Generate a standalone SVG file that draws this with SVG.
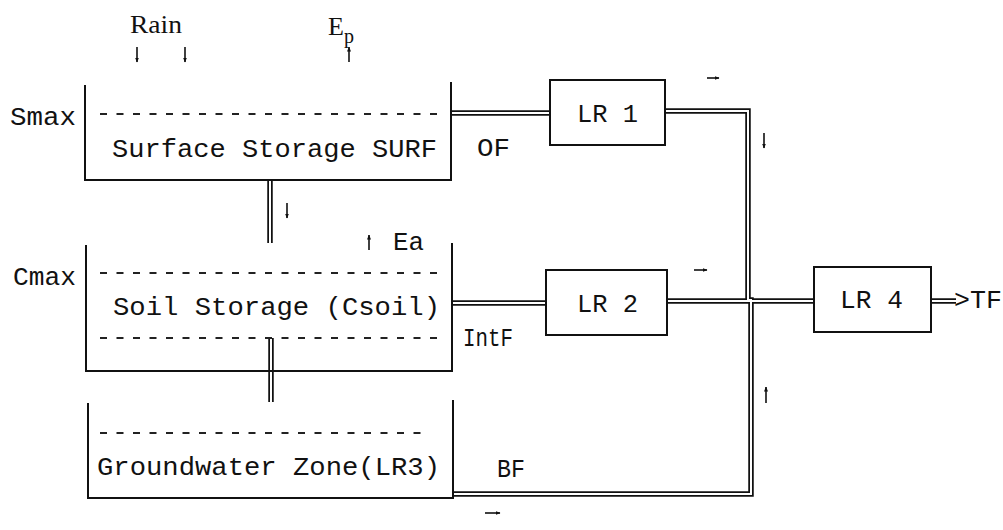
<svg xmlns="http://www.w3.org/2000/svg" width="1003" height="530" viewBox="0 0 1003 530">
<style>
.bg{fill:#fff}
.wall{fill:none;stroke:#111;stroke-width:2}
.box{fill:#fff;stroke:#111;stroke-width:2}
.dash{stroke:#222;stroke-width:2;stroke-dasharray:7 9.5}
.mono{font-family:"Liberation Mono","Courier New",monospace;font-size:26px;fill:#111}
.serif{font-family:"Liberation Serif","Times New Roman",serif;font-size:26px;fill:#111}
.dblo{fill:none;stroke:#111;stroke-width:5.5}
.dbli{fill:none;stroke:#fff;stroke-width:2}
.arr{stroke:#111;stroke-width:1.6;marker-end:url(#ah)}
</style>
<defs>
<marker id="ah" viewBox="0 0 10 10" refX="9" refY="5" markerWidth="5" markerHeight="5" orient="auto" markerUnits="userSpaceOnUse">
<path d="M0,1 L10,5 L0,9 z" fill="#111"/>
</marker>
</defs>
<rect class="bg" width="1003" height="530"/>

<g id="connectors">
<g class="dblo">
<path d="M452,113 H550"/>
<path d="M665,111 H748 V300"/>
<path d="M748,300 H751 V494 H453"/>
<path d="M452,303 H546"/>
<path d="M667,301 H814"/>
<path d="M931,301 H956"/>
<path d="M270,181 V243"/>
<path d="M271,338 V402"/>
</g>
<g class="dbli">
<path d="M452,113 H550"/>
<path d="M665,111 H748 V300"/>
<path d="M748,300 H751 V494 H453"/>
<path d="M452,303 H546"/>
<path d="M667,301 H814"/>
<path d="M931,301 H956"/>
<path d="M270,181 V243"/>
<path d="M271,338 V402"/>
</g>
<line class="arr" x1="137" y1="47" x2="137" y2="62"/>
<line class="arr" x1="185" y1="47" x2="185" y2="62"/>
<line class="arr" x1="349" y1="62" x2="349" y2="47"/>
<line class="arr" x1="287" y1="203" x2="287" y2="218"/>
<line class="arr" x1="369" y1="250" x2="369" y2="235"/>
<line class="arr" x1="707" y1="78" x2="719" y2="78"/>
<line class="arr" x1="764" y1="133" x2="764" y2="148"/>
<line class="arr" x1="694" y1="270" x2="707" y2="270"/>
<line class="arr" x1="766" y1="403" x2="766" y2="387"/>
<line class="arr" x1="485" y1="513" x2="500" y2="513"/>
</g>

<g id="inputs">
<text class="serif" x="130" y="33" textLength="52" lengthAdjust="spacingAndGlyphs">Rain</text>
<text class="serif" x="328" y="35">E<tspan font-size="20" dy="8">p</tspan></text>
</g>

<g id="surf">
<path class="wall" d="M85,85 V180 H451 V82"/>
<line class="dash" x1="100" y1="114" x2="442" y2="114"/>
<text class="mono" x="112" y="157" textLength="325" lengthAdjust="spacingAndGlyphs">Surface Storage SURF</text>
<text class="mono" x="10" y="125" textLength="66" lengthAdjust="spacingAndGlyphs">Smax</text>
<text class="mono" x="477" y="156" textLength="33" lengthAdjust="spacingAndGlyphs">OF</text>
</g>

<g id="soil">
<path class="wall" d="M86,245 V371 H452 V243"/>
<line class="dash" x1="100" y1="273" x2="442" y2="273"/>
<line class="dash" x1="100" y1="338" x2="442" y2="338"/>
<text class="mono" x="113" y="315" textLength="327" lengthAdjust="spacingAndGlyphs">Soil Storage (Csoil)</text>
<text class="mono" x="13" y="285" textLength="63" lengthAdjust="spacingAndGlyphs">Cmax</text>
<text class="mono" x="393" y="250" textLength="31" lengthAdjust="spacingAndGlyphs">Ea</text>
<text class="mono" x="463" y="346" textLength="50" lengthAdjust="spacingAndGlyphs">IntF</text>
</g>

<g id="gw">
<path class="wall" d="M88,403 V498 H453 V400"/>
<line class="dash" x1="100" y1="433" x2="428" y2="433"/>
<text class="mono" x="97" y="475" textLength="343" lengthAdjust="spacingAndGlyphs">Groundwater Zone(LR3)</text>
<text class="mono" x="497" y="477" textLength="28" lengthAdjust="spacingAndGlyphs">BF</text>
</g>

<g id="lr1">
<rect class="box" x="550" y="80" width="115" height="65"/>
<text class="mono" x="577" y="122" textLength="61" lengthAdjust="spacingAndGlyphs">LR 1</text>
</g>

<g id="lr2">
<rect class="box" x="546" y="270" width="121" height="65"/>
<text class="mono" x="577" y="312" textLength="61" lengthAdjust="spacingAndGlyphs">LR 2</text>
</g>

<g id="lr4">
<rect class="box" x="814" y="267" width="117" height="65"/>
<text class="mono" x="840" y="308" textLength="63" lengthAdjust="spacingAndGlyphs">LR 4</text>
</g>

<g id="tf">
<text class="mono" x="954" y="308" textLength="48" lengthAdjust="spacingAndGlyphs">&gt;TF</text>
</g>
</svg>
